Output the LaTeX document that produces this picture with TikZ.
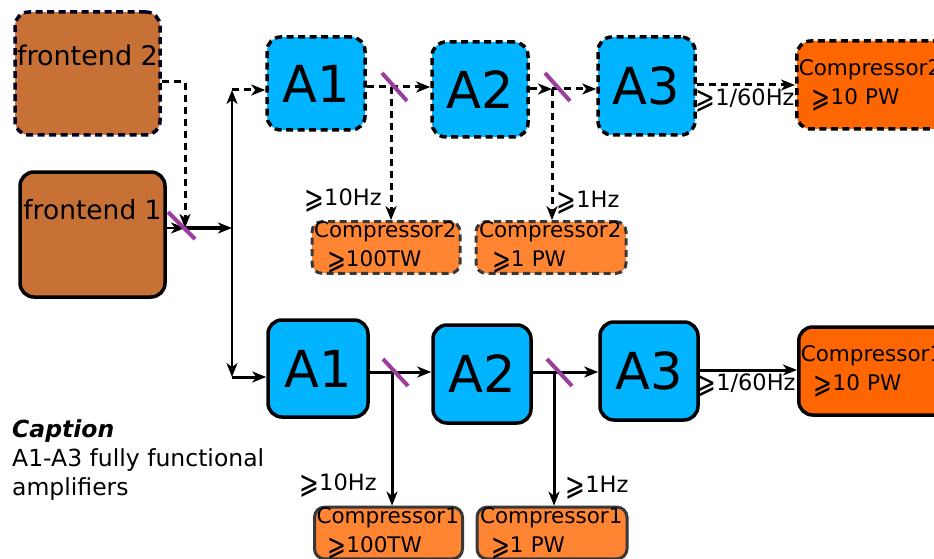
\documentclass[tikz,border=0pt]{standalone}
\usepackage{fontspec}
\setmainfont{DejaVu Sans}
\usetikzlibrary{arrows.meta}
\definecolor{febrown}{HTML}{C87137}
\definecolor{ampblue}{HTML}{00B4FF}
\definecolor{bigorange}{HTML}{FF6600}
\definecolor{smallorange}{HTML}{FF8533}
\definecolor{bspurple}{HTML}{9A3D9C}
\definecolor{navy}{HTML}{000022}
\newcommand{\geqsym}{\raisebox{-0.14em}{\scalebox{1.05}[1.4]{⩾}}}
\begin{document}
\begin{tikzpicture}[x=1pt,y=-1pt,
  arr/.style={-{Stealth[length=14pt,width=11pt,inset=4pt]}},
  box/.style={draw, rounded corners=14pt, line width=3.5pt, inner sep=0pt},
  dsh/.style={dash pattern=on 7pt off 4.5pt},
  fe/.style={box, fill=febrown, font=\fontsize{27}{30}\selectfont},
  amp/.style={box, fill=ampblue, font=\fontsize{51}{55}\selectfont},
  bigc/.style={box, fill=bigorange, anchor=west, minimum height=88pt, text width=176pt, inner xsep=2pt, align=left, font=\fontsize{21.5}{29}\selectfont},
  smallc/.style={box, rounded corners=10pt, line width=3pt, draw=black!78, fill=smallorange, text width=144pt, inner xsep=2pt, align=left, font=\fontsize{21.5}{29}\selectfont},
  conn/.style={arr, line width=3pt},
  dconn/.style={arr, line width=3pt, dash pattern=on 7pt off 5pt},
  lbl/.style={font=\fontsize{22.5}{26}\selectfont, inner sep=0pt},
  splitter/.style={draw=bspurple, line width=4pt}
]
\useasboundingbox (0,0) rectangle (934,559);
\clip (0,0) rectangle (934,559);

% frontends
\node[fe, dsh, draw=navy, minimum width=145pt, minimum height=123pt,
  label={[font=\fontsize{27}{30}\selectfont, yshift=18.5pt]center:frontend 2}] (fe2) at (87.5,73.5) {};
\node[fe, minimum width=145pt, minimum height=125pt,
  label={[font=\fontsize{26.5}{30}\selectfont, yshift=24.5pt]center:frontend 1}] (fe1) at (92.5,234.5) {};

% coordinates
\coordinate (bs0) at (185,228);
\coordinate (mid) at (232,228);
\coordinate (up) at (232,90);
\coordinate (dn) at (232,377);
\coordinate (tbs1) at (391,87);
\coordinate (tbs2) at (552,89);
\coordinate (bbs1) at (392,372);
\coordinate (bbs2) at (554,372);

% top row amplifiers
\node[amp, dsh, minimum width=98pt, minimum height=93pt] (tA1) at (316,83.5) {A1};
\node[amp, dsh, minimum width=96pt, minimum height=95pt] (tA2) at (480,89.5) {A2};
\node[amp, dsh, minimum width=97pt, minimum height=98pt] (tA3) at (646.5,86) {A3};
\node[bigc, dsh] (tC) at (795,85) {Compressor2\\\hspace*{13pt}\geqsym10 PW};

% bottom row amplifiers
\node[amp, minimum width=100pt, minimum height=97pt] (bA1) at (318,368.5) {A1};
\node[amp, minimum width=98pt, minimum height=98pt] (bA2) at (482,374) {A2};
\node[amp, minimum width=98pt, minimum height=98pt] (bA3) at (649,371) {A3};
\node[bigc] (bC) at (797,371) {Compressor1\\\hspace*{13pt}\geqsym10 PW};

% small compressors
\node[smallc, dsh, minimum width=148pt, minimum height=51pt] (tc1) at (386,247.5) {Compressor2\\\hspace*{13pt}\geqsym100TW};
\node[smallc, dsh, minimum width=150pt, minimum height=51pt] (tc2) at (551,247.5) {Compressor2\\\hspace*{13pt}\geqsym1 PW};
\node[smallc, minimum width=147pt, minimum height=50pt] (bc1) at (388.5,533) {Compressor1\\\hspace*{11pt}\geqsym100TW};
\node[smallc, minimum width=150pt, minimum height=50pt] (bc2) at (552,533) {Compressor1\\\hspace*{11pt}\geqsym1 PW};

% frontend connectors
\draw[dconn] ([yshift=-8.5pt]fe2.east) -| (bs0);
\draw[arr, line width=2pt] (fe1.east |- bs0) -- (bs0);
\draw[arr, line width=4pt] (bs0) -- (mid);
\draw[arr, line width=2pt] (mid) -- (up);
\draw[arr, line width=2pt] (mid) -- (dn);
\draw[dconn] (up) -- (tA1.west |- up);
\draw[conn] (dn) -- (bA1.west |- dn);

% top row connectors
\draw[dconn] (tA1.east |- tbs1) -- (tA2.west |- tbs1);
\draw[dconn] (tA2.east |- tbs2) -- (tbs2);
\draw[dconn] (tbs2) -- (tA3.west |- tbs2);
\draw[dconn] (tbs1) -- (tbs1 |- tc1.north);
\draw[dconn] (tbs2) -- (tbs2 |- tc2.north);
\draw[dconn] (tA3.east |- tC.west) -- (tC.west);

% bottom row connectors
\draw[conn] (bA1.east |- bbs1) -- (bA2.west |- bbs1);
\draw[conn] (bA2.east |- bbs2) -- (bA3.west |- bbs2);
\draw[conn] (bbs1) -- (bbs1 |- bc1.north);
\draw[conn] (bbs2) -- (bbs2 |- bc2.north);
\draw[conn] ([yshift=1pt]bA3.east) -- ([yshift=1pt]bC.west);

% splitters
\draw[splitter] ([shift={(-17,-16)}]bs0) -- ([shift={(10,11)}]bs0);
\draw[splitter] ([shift={(-9,-14)}]tbs1) -- ([shift={(16,14)}]tbs1);
\draw[splitter] ([shift={(-7,-16)}]tbs2) -- ([shift={(18,12)}]tbs2);
\draw[splitter] ([shift={(-9,-13)}]bbs1) -- ([shift={(16,14)}]bbs1);
\draw[splitter] ([shift={(-7,-13)}]bbs2) -- ([shift={(18,14)}]bbs2);

% labels
\node[lbl] (l1) at (343,201) {\geqsym10Hz};
\node[lbl] (l2) at (588,203) {\geqsym1Hz};
\node[lbl] (l3) at (745,101) {\geqsym1/60Hz};
\node[lbl] (l4) at (338,486) {\geqsym10Hz};
\node[lbl] (l5) at (597,488) {\geqsym1Hz};
\node[lbl] (l6) at (746,386) {\geqsym1/60Hz};

% caption
\node[anchor=north west, align=left, inner sep=0pt, font=\fontsize{23.5}{29}\selectfont] (cap) at (12,419)
  {\textbf{\textit{Caption}}\\A1-A3 fully functional\\amplifiers};
\end{tikzpicture}
\end{document}
